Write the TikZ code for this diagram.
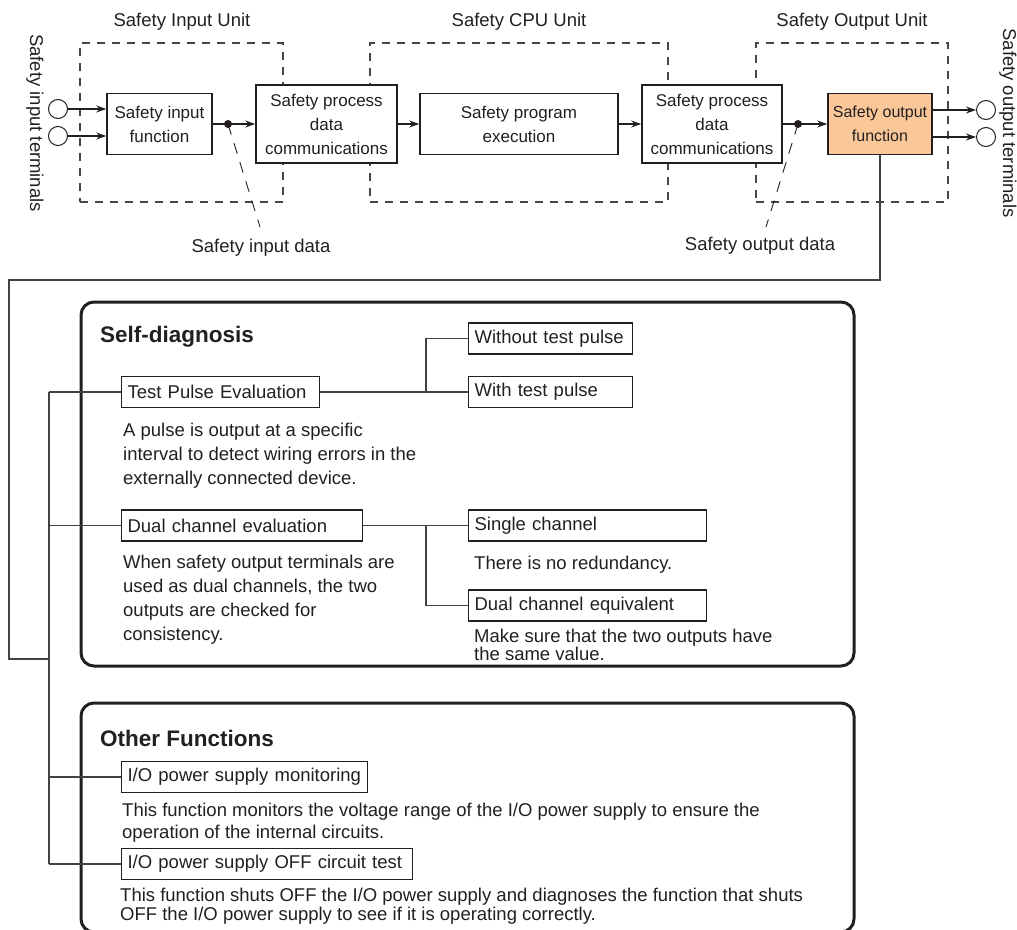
\documentclass[tikz,border=0pt]{standalone}
\usepackage{fontspec}
\setmainfont{Liberation Sans}
\usetikzlibrary{arrows.meta}
\definecolor{ink}{RGB}{35,31,32}
\definecolor{orangefill}{RGB}{250,200,152}
\definecolor{dashgray}{RGB}{70,70,70}
\begin{document}
\begin{tikzpicture}[x=1pt,y=-1pt,
  every node/.style={text=ink},
  fbox/.style={draw=ink, line width=1.6pt, align=center, inner sep=0pt, font=\fontsize{17}{24}\selectfont},
  unitbox/.style={draw=dashgray, line width=1.2pt, dash pattern=on 8pt off 7pt, inner sep=0pt},
  term/.style={circle, draw=ink, line width=1pt, minimum size=19pt, inner sep=0pt},
  arr/.style={draw=ink, line width=1.1pt, -{Stealth[length=10pt,width=7pt]}},
  jdot/.style={circle, fill=ink, minimum size=8pt, inner sep=0pt},
  dl/.style={draw=ink, line width=0.9pt, dash pattern=on 11pt off 9pt},
  lbl/.style={font=\fontsize{18.5}{22}\selectfont, inner sep=0pt},
  tree/.style={draw=ink!85, line width=1.1pt},
  rbox/.style={draw=ink, line width=3pt, rounded corners=13pt, inner sep=0pt},
  sbox/.style={draw=ink, line width=1.2pt, anchor=west, minimum height=31pt, inner xsep=6pt, inner ysep=0pt, align=left, font=\fontsize{18.5}{22}\selectfont},
  title/.style={anchor=west, inner sep=0pt, font=\bfseries\fontsize{22.5}{27}\selectfont},
  desc/.style={anchor=north west, inner sep=0pt, align=left}
]
\useasboundingbox (0,0) rectangle (1017,929);

% unit frames
\node[unitbox, minimum width=203pt, minimum height=159pt] (uin) at (181.5,122.5) {};
\node[unitbox, minimum width=298pt, minimum height=159pt] (ucpu) at (519,122.5) {};
\node[unitbox, minimum width=192pt, minimum height=159pt] (uout) at (852,122.5) {};
\node[lbl] (luin) at (182,22) {Safety Input Unit};
\node[lbl] (lucpu) at (519,22) {Safety CPU Unit};
\node[lbl] (luout) at (852,22) {Safety Output Unit};

% function boxes
\node[fbox, fill=white, minimum width=105pt, minimum height=61pt] (sif) at (159.5,124) {Safety input\\function};
\node[fbox, fill=white, minimum width=141pt, minimum height=78pt] (spd1) at (326.5,124) {Safety process\\data\\communications};
\node[fbox, fill=white, minimum width=198pt, minimum height=61pt] (spe) at (519,124) {Safety program\\execution};
\node[fbox, fill=white, minimum width=140pt, minimum height=78pt] (spd2) at (712,124) {Safety process\\data\\communications};
\node[fbox, fill=orangefill, minimum width=104pt, minimum height=61pt, font=\fontsize{16}{24}\selectfont] (sof) at (880,124) {Safety output\\function};

% terminals
\node[term] (in1) at (58,109) {};
\node[term] (in2) at (58,136) {};
\node[term] (out1) at (986,110) {};
\node[term] (out2) at (986,137) {};
\node[lbl, rotate=-90] (lin) at (35,123) {Safety input terminals};
\node[lbl, rotate=-90] (lout) at (1008,123) {Safety output terminals};

% arrows
\draw[arr] (in1.east) -- (in1.east -| sif.west);
\draw[arr] (in2.east) -- (in2.east -| sif.west);
\draw[arr] (sif.east) -- (spd1.west);
\draw[arr] (spd1.east) -- (spe.west);
\draw[arr] (spe.east) -- (spd2.west);
\draw[arr] (spd2.east) -- (sof.west);
\draw[arr] (sof.east |- out1) -- (out1.west);
\draw[arr] (sof.east |- out2) -- (out2.west);

% data points
\node[jdot] (dot1) at (228,124) {};
\node[jdot] (dot2) at (798,124) {};
\coordinate (c1) at (260,227);
\coordinate (c2) at (766,227);
\draw[dl] (dot1.center) -- (c1);
\draw[dl] (dot2.center) -- (c2);
\node[lbl] (lsid) at (261,248) {Safety input data};
\node[lbl] (lsod) at (760,246) {Safety output data};

% panels
\node[rbox, minimum width=773pt, minimum height=364pt] (sd) at (467.5,484) {};
\node[rbox, minimum width=773pt, minimum height=229pt] (of) at (467.5,817.5) {};
\node[title] (tsd) at (100,337) {Self-diagnosis};
\node[title] (tof) at (100,738) {Other Functions};

% connector from output function to the tree
\coordinate (k1) at (9,280);
\coordinate (k2) at (9,659);
\coordinate (t0) at (49,659);
\coordinate (tA) at (49,392);
\coordinate (tB) at (49,864);
\draw[tree] (sof.south) |- (k1) -- (k2) -- (t0);
\draw[tree] (tA) -- (tB);

% self-diagnosis items
\node[sbox, minimum width=198pt, text width=186pt] (tpe) at (121,392) {Test Pulse Evaluation};
\node[sbox, minimum width=164pt, text width=152pt] (wotp) at (468,338.5) {Without test pulse};
\node[sbox, minimum width=164pt, text width=152pt] (wtp) at (468,392) {With test pulse};
\node[sbox, minimum width=241pt, text width=229pt] (dce) at (121,525.5) {Dual channel evaluation};
\node[sbox, minimum width=238pt, text width=226pt] (sch) at (468,525.5) {Single channel};
\node[sbox, minimum width=238pt, text width=226pt] (dceq) at (468,605.5) {Dual channel equivalent};
\node[sbox, minimum width=246pt, text width=234pt] (iopm) at (121,777) {I/O power supply monitoring};
\node[sbox, minimum width=291pt, text width=279pt] (iopo) at (121,864) {I/O power supply OFF circuit test};

\coordinate (j1) at (426,392);
\coordinate (j2) at (426,525.5);
\draw[tree] (tA) -- (tpe.west);
\draw[tree] (tA |- dce.west) -- (dce.west);
\draw[tree] (tA |- iopm.west) -- (iopm.west);
\draw[tree] (tB) -- (iopo.west);
\draw[tree] (tpe.east) -- (wtp.west);
\draw[tree] (wotp.west) -| (j1);
\draw[tree] (dce.east) -- (sch.west);
\draw[tree] (dceq.west) -| (j2);

% descriptions
\node[desc, font=\fontsize{18.5}{24}\selectfont] (d1) at (123,422.5) {A pulse is output at a specific\\interval to detect wiring errors in the\\externally connected device.};
\node[desc, font=\fontsize{18.5}{24}\selectfont] (d2) at (123,554.5) {When safety output terminals are\\used as dual channels, the two\\outputs are checked for\\consistency.};
\node[desc, font=\fontsize{18.5}{24}\selectfont] (d3) at (474,555.5) {There is no redundancy.};
\node[desc, font=\fontsize{18.5}{14.5}\selectfont] (d4) at (474,628.5) {Make sure that the two outputs have\\the same value.};
\node[desc, font=\fontsize{18.5}{22}\selectfont] (d5) at (122,802.5) {This function monitors the voltage range of the I/O power supply to ensure the\\operation of the internal circuits.};
\node[desc, font=\fontsize{18.5}{19}\selectfont] (d6) at (120,888) {This function shuts OFF the I/O power supply and diagnoses the function that shuts\\OFF the I/O power supply to see if it is operating correctly.};
\end{tikzpicture}
\end{document}
